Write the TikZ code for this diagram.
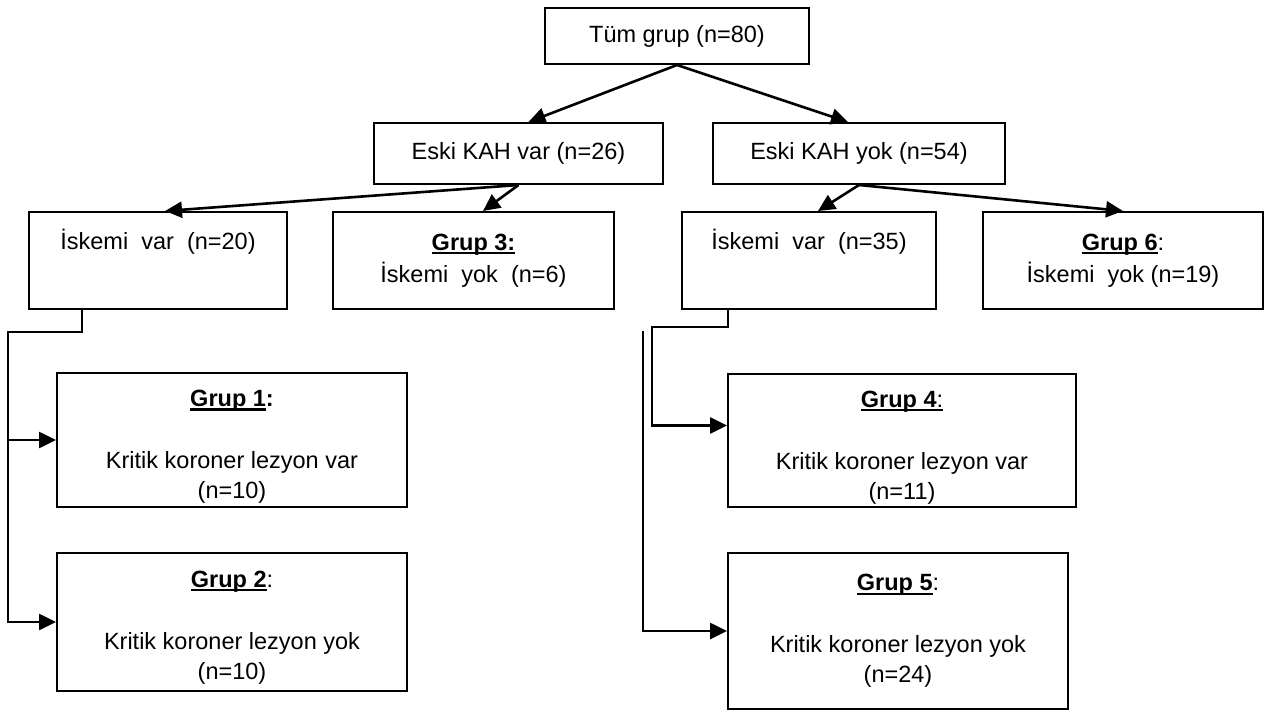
\documentclass[tikz,border=0pt]{standalone}
\usepackage{fontspec}
\setmainfont{Liberation Sans}
\usetikzlibrary{arrows.meta,positioning,calc}

% underlined group title
\newcommand{\ulgrup}[1]{\setbox0\hbox{#1}\rlap{\rule[-4pt]{\wd0}{2.2pt}}\box0}

\begin{document}
\begin{tikzpicture}[
    x=1pt, y=-1pt,
    box/.style={draw, line width=2pt, inner sep=0pt, align=center, font={\fontsize{23.5}{32}\selectfont}},
    grupbox/.style={box, font={\fontsize{23.5}{30}\selectfont}},
    link/.style={line width=2.6pt, -{Triangle[length=17pt,width=16pt]}},
    wire/.style={line width=2.6pt}
]
    \useasboundingbox (0,0) rectangle (1272,711);

    % Top
    \node[box, minimum width=264pt, minimum height=56pt] (all) at (677,36) {Tüm grup (n=80)};

    % Eski KAH
    \node[box, minimum width=289pt, minimum height=61pt] (kahvar) at (518.5,153.5) {Eski KAH var (n=26)};
    \node[box, minimum width=292pt, minimum height=61pt] (kahyok) at (859,153.5) {Eski KAH yok (n=54)};

    % Iskemi
    \node[box, minimum width=258pt, minimum height=97pt] (isk1) at (158,260.5) {İskemi~~var~~(n=20)\\ \strut};
    \node[box, minimum width=281pt, minimum height=97pt] (grup3) at (473.5,260.5) {\ulgrup{\textbf{Grup 3:}}\\ İskemi~~yok~~(n=6)};
    \node[box, minimum width=254pt, minimum height=97pt] (isk2) at (809,260.5) {İskemi~~var~~(n=35)\\ \strut};
    \node[box, minimum width=280pt, minimum height=97pt] (grup6) at (1123,260.5) {\ulgrup{\textbf{Grup 6}}:\\ İskemi~~yok (n=19)};

    \foreach \src/\dst/\dx in {all/kahvar/10, all/kahyok/-11, kahvar/isk1/7, kahvar/grup3/9.5, kahyok/isk2/9, kahyok/grup6/0}
        \draw[link] (\src.south) -- ([xshift=\dx pt]\dst.north);

    % Left
    \node[grupbox, minimum width=350pt, minimum height=134pt] (g1) at (232,440) {\rule{0pt}{30pt}\ulgrup{\textbf{Grup 1}}\textbf{:}\\[32pt] Kritik koroner lezyon var\\ (n=10)};
    \node[grupbox, minimum width=350pt, minimum height=138pt] (g2) at (232,622) {\rule{0pt}{27pt}\ulgrup{\textbf{Grup 2}}:\\[32pt] Kritik koroner lezyon yok\\ (n=10)};
    \coordinate (isk1out) at ([xshift=54pt]isk1.south west);
    \coordinate (leftbus) at (8,332);
    \draw[link] (isk1out) |- (leftbus) |- (g2.west);
    \draw[link] (leftbus |- g1.west) -- (g1.west);

    % Right
    \node[grupbox, minimum width=348pt, minimum height=133pt] (g4) at (902,440.5) {\rule{0pt}{30pt}\ulgrup{\textbf{Grup 4}:}\\[32pt] Kritik koroner lezyon var\\ (n=11)};
    \node[grupbox, minimum width=340pt, minimum height=156pt] (g5) at (898,631) {\ulgrup{\textbf{Grup 5}}:\\[32pt] Kritik koroner lezyon yok\\ (n=24)};
    \coordinate (isk2out) at ([xshift=47pt]isk2.south west);
    \coordinate (rightbus) at (652,327);
    \coordinate (loosebus) at (643,331);
    \draw[link] (isk2out) |- (rightbus) |- ([yshift=15pt]g4.west);
    \draw[link] (loosebus) |- (g5.west);
\end{tikzpicture}
\end{document}
